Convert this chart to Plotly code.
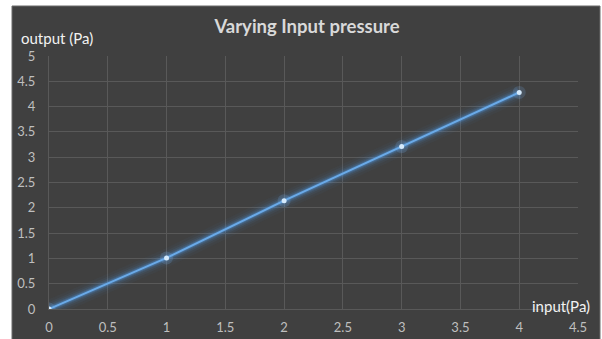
import plotly.graph_objects as go

# Data
input_pa = [0, 1, 2, 3, 4]
output_pa = [0, 1.01, 2.14, 3.21, 4.28]
x_ticks = [0, 0.5, 1, 1.5, 2, 2.5, 3, 3.5, 4, 4.5]
y_ticks = [0, 0.5, 1, 1.5, 2, 2.5, 3, 3.5, 4, 4.5, 5]

W, H = 602, 339
ML, MR, MT, MB = 49, 24, 56, 30
pw, ph = W - ML - MR, H - MT - MB

BG = "#404040"
GRID = "#595959"
LINE = "#6aaae8"
FONT = "Lato"

fig = go.Figure()
# glow layers
for w, a in [(18, 0.04), (13, 0.06), (9, 0.10), (6, 0.16), (4, 0.25)]:
    fig.add_trace(go.Scatter(x=input_pa, y=output_pa, mode="lines",
                             line=dict(color=f"rgba(80,155,235,{a})", width=w),
                             hoverinfo="skip", showlegend=False))
fig.add_trace(go.Scatter(x=input_pa, y=output_pa, mode="markers",
                         marker=dict(color="rgba(120,180,240,0.18)", size=13, line=dict(width=0)),
                         hoverinfo="skip", showlegend=False))
fig.add_trace(go.Scatter(x=input_pa, y=output_pa, mode="lines+markers",
                         line=dict(color=LINE, width=2),
                         marker=dict(color="#d5eafc", size=5, line=dict(width=0)),
                         showlegend=False))

# dark chart area on white page
fig.add_shape(type="rect", xref="paper", yref="paper", layer="below",
              x0=(12 - ML) / pw, x1=(600 - ML) / pw,
              y0=-(MB + 2) / ph, y1=(ph + MT - 6) / ph,
              fillcolor=BG, line=dict(color="#6a6a6a", width=1))

fig.update_layout(
    width=W, height=H,
    margin=dict(l=ML, r=MR, t=MT, b=MB),
    paper_bgcolor="white", plot_bgcolor=BG,
    title=dict(text="Varying Input pressure", x=(307 - ML) / pw, xref="paper", xanchor="center",
               y=(H - 27) / H, yanchor="middle",
               font=dict(family=FONT, size=18.5, color="#d9d9d9", weight="bold")),
    font=dict(family=FONT, color="#bfbfbf", size=13),
    xaxis=dict(range=[0, 4.5], tickvals=x_ticks, ticktext=[f"{v:g}" for v in x_ticks],
               showgrid=True, gridcolor=GRID, gridwidth=1, zeroline=False, automargin=False,
               showline=True, linecolor=GRID, ticks="", ticklabelstandoff=6,
               tickfont=dict(family=FONT, size=13, color="#bfbfbf")),
    yaxis=dict(range=[0, 5], tickvals=y_ticks, ticktext=[f"{v:g}" for v in y_ticks],
               showgrid=True, gridcolor=GRID, gridwidth=1, zeroline=False, automargin=False,
               showline=True, linecolor=GRID, ticks="", ticklabelstandoff=10,
               tickfont=dict(family=FONT, size=13, color="#bfbfbf")),
    annotations=[
        dict(text="output (Pa)", xref="paper", yref="paper",
             x=(57 - ML) / pw, y=(H - MB - 38) / ph, xanchor="center", yanchor="middle",
             showarrow=False, font=dict(family=FONT, size=15, color="#f2f2f2")),
        dict(text="input(Pa)", xref="paper", yref="paper",
             x=(561 - ML) / pw, y=(H - MB - 306) / ph, xanchor="center", yanchor="middle",
             showarrow=False, font=dict(family=FONT, size=15, color="#f2f2f2")),
    ],
)

fig.write_html("out.html")
